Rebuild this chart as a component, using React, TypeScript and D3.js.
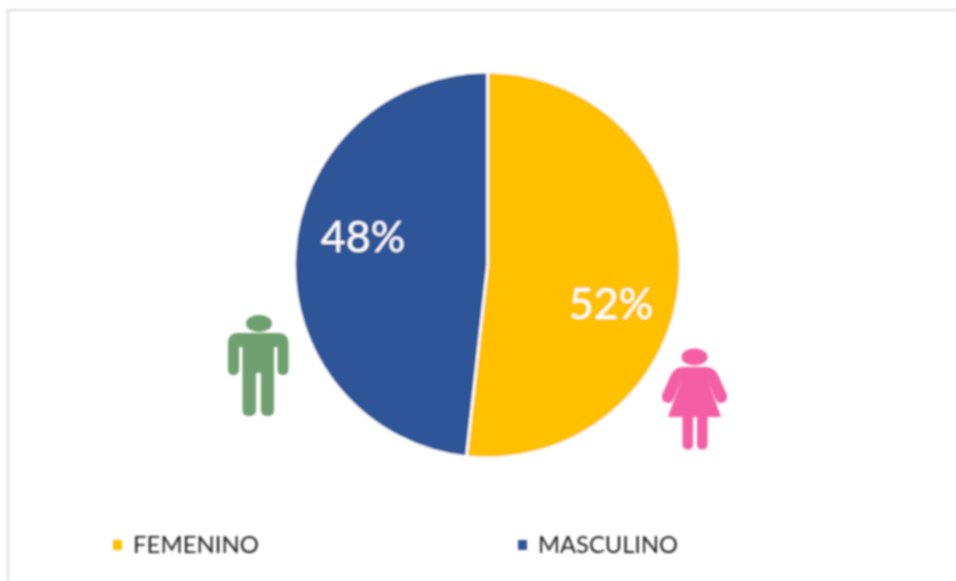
import React from "react";
import * as d3 from "d3";

const categories = ["FEMENINO", "MASCULINO"];
const values = [51.75, 48.25];
const pctLabels = ["52%", "48%"];
const colors = ["#FFC000", "#2F5597"];

const W = 956, H = 581, CX = 487.5, CY = 265, R = 193;

export default function App() {
  const pie = d3.pie<number>().sort(null)(values);
  const arc = d3.arc<d3.PieArcDatum<number>>().innerRadius(0).outerRadius(R);
  const labelPos = [[611, 302], [363, 235]];
  const legendX = [113, 518];
  const ff = "Lato, Carlito, 'Open Sans', sans-serif";
  return (
    <svg width={W} height={H} style={{ position: "absolute", left: 0, top: 0, background: "#fff" }}>
      <defs>
        <filter id="soft" filterUnits="userSpaceOnUse" x={0} y={0} width={W} height={H}>
          <feGaussianBlur stdDeviation="0.8" />
        </filter>
      </defs>
      <g filter="url(#soft)">
        <path d="M8 581V10H956" fill="none" stroke="#e3e3e3" strokeWidth={2.5} />
        <g transform={`translate(${CX},${CY})`}>
          {pie.map((d, i) => (
            <path key={i} d={arc(d) ?? ""} fill={colors[i]} stroke="#fff" strokeWidth={2.5} />
          ))}
        </g>
        {pctLabels.map((t, i) => (
          <text key={t} x={labelPos[i][0]} y={labelPos[i][1]} fill="#fff" fontFamily={ff} fontSize={43}
            textAnchor="middle" dominantBaseline="central">{t}</text>
        ))}
        {categories.map((c, i) => (
          <g key={c}>
            <rect x={legendX[i]} y={540} width={9} height={10} fill={colors[i]} />
            <text x={legendX[i] + 20} y={553} fontFamily={ff} fontSize={23.5} fill="#222"
              textLength={i === 0 ? 126 : 140} lengthAdjust="spacingAndGlyphs">{c}</text>
          </g>
        ))}
        {/* man */}
        <g fill="#70A070">
          <ellipse cx={259} cy={323.5} rx={13} ry={8.5} />
          <path d="M238 333H278Q288.500 333 288.500 344V369Q288.500 375 283 375Q277.500 375 277.500 369V347H274V410Q274 416 268 416Q261 416 261 410V373H256V410Q256 416 249 416Q242.500 416 242.500 410V347H239V369Q239 375 233.500 375Q228 375 228 369V344Q228 333 238 333Z" />
        </g>
        {/* woman */}
        <g fill="#F45FA3">
          <ellipse cx={694.500} cy={357} rx={13} ry={8.500} />
          <path d="M683 367H706Q714 367 718 375L727 395Q728 402 721 403Q717 403 715 398L708 381L721 417H707.500V444Q707.500 449.500 702 449.500Q697 449.500 697 444V417H693V444Q693 449.500 688 449.500Q682.500 449.500 682.500 444V417H668L681 381L674 398Q672 403 668 403Q661 402 662 395L671 375Q675 367 683 367Z" />
        </g>
      </g>
    </svg>
  );
}
